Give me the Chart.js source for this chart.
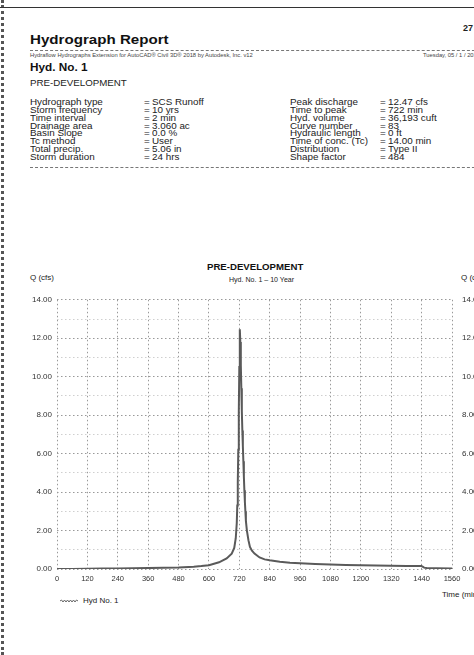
<!DOCTYPE html>
<html>
<head>
<meta charset="utf-8">
<script src="https://cdn.jsdelivr.net/npm/chart.js@4.4.0/dist/chart.umd.min.js"></script>
<style>
html, body { margin: 0; padding: 0; background: #fff; }
body { width: 474px; height: 655px; overflow: hidden; position: relative;
       font-family: "Liberation Sans", Arial, sans-serif; color: #222; }
.t { position: absolute; white-space: nowrap; line-height: 1; }
.sx { transform: scaleX(1.12); transform-origin: 0 0; }
.b { font-weight: bold; }
#leftEdge { position: absolute; left: 1px; top: 0; height: 655px; border-left: 3px dotted #555; }
#topLine { position: absolute; left: 0; top: 7px; width: 474px; border-top: 1.5px solid #333; }
.dash { position: absolute; left: 30px; width: 460px; border-top: 1px dashed #777; }
#chartBox { position: absolute; left: 0; top: 285px; width: 520px; height: 304px; }
</style>
</head>
<body>
<div id="leftEdge"></div>
<div id="topLine"></div>

<div class="t b" style="left:463px;top:24px;font-size:9px;">27</div>
<div class="t b sx" style="left:30px;top:33px;font-size:13.5px;color:#111;">Hydrograph Report</div>
<div class="dash" style="top:50px;"></div>
<div class="t" style="left:30px;top:53px;font-size:5.8px;color:#444;">Hydraflow Hydrographs Extension for AutoCAD® Civil 3D® 2018 by Autodesk, Inc. v12</div>
<div class="t" style="left:423px;top:53px;font-size:5.8px;color:#444;">Tuesday, 05 / 1 / 2018</div>
<div class="t b sx" style="left:30px;top:62px;font-size:10.5px;color:#111;">Hyd. No. 1</div>
<div class="t sx" style="left:30px;top:79px;font-size:8.7px;">PRE-DEVELOPMENT</div>
<div id="params"></div>
<div class="dash" style="top:167px;"></div>

<div class="t b sx" style="left:207px;top:263px;font-size:8.6px;color:#111;">PRE-DEVELOPMENT</div>
<div class="t sx" style="left:229px;top:277px;font-size:6.3px;">Hyd. No. 1 &ndash; 10 Year</div>
<div class="t" style="left:30px;top:274px;font-size:8px;">Q (cfs)</div>
<div class="t" style="left:461px;top:274px;font-size:8px;">Q (cfs)</div>
<div class="t" style="left:442px;top:591px;font-size:8px;">Time (min)</div>

<div id="chartBox"><canvas id="hydroChart"></canvas></div>

<svg style="position:absolute;left:60px;top:598px;" width="20" height="6">
  <polyline points="0,3 1.5,2 3,4 4.5,2 6,4 7.5,2 9,4 10.5,2 12,4 13.5,2 15,4 16.5,2 18,3" fill="none" stroke="#666" stroke-width="1"/>
</svg>
<div class="t" style="left:83px;top:597px;font-size:8px;">Hyd No. 1</div>

<script>
// Parameter table
const leftLabels = ["Hydrograph type", "Storm frequency", "Time interval", "Drainage area",
                    "Basin Slope", "Tc method", "Total precip.", "Storm duration"];
const leftValues = ["SCS Runoff", "10 yrs", "2 min", "3.060 ac", "0.0 %", "User", "5.06 in", "24 hrs"];
const rightLabels = ["Peak discharge", "Time to peak", "Hyd. volume", "Curve number",
                     "Hydraulic length", "Time of conc. (Tc)", "Distribution", "Shape factor"];
const rightValues = ["12.47 cfs", "722 min", "36,193 cuft", "83", "0 ft", "14.00 min", "Type II", "484"];

// Hydrograph (time in min, flow in cfs)
const timeMin = [0, 60, 120, 180, 240, 300, 360, 420, 480, 540, 570, 600, 640, 670, 690,
                 700, 706, 710, 712, 714, 716, 718, 720, 722, 724, 726, 728, 730, 732, 734,
                 736, 738, 740, 742, 744, 746, 750, 756, 762, 770, 780, 800, 820, 840, 880,
                 920, 960, 1020, 1080, 1140, 1200, 1260, 1320, 1380, 1440, 1444, 1450, 1460,
                 1500, 1560];
const flowCfs = [0.00, 0.00, 0.01, 0.02, 0.03, 0.04, 0.05, 0.06, 0.08, 0.12, 0.15, 0.20, 0.35,
                 0.55, 0.80, 1.10, 1.60, 2.40, 3.30, 4.50, 6.20, 8.20, 10.50, 12.47, 11.80,
                 10.60, 9.40, 8.20, 7.20, 6.40, 5.60, 4.80, 4.10, 3.50, 3.00, 2.50, 2.00, 1.50,
                 1.15, 0.95, 0.80, 0.60, 0.50, 0.45, 0.38, 0.33, 0.30, 0.26, 0.23, 0.21, 0.19,
                 0.18, 0.17, 0.16, 0.16, 0.12, 0.07, 0.05, 0.04, 0.03];

const xMax = 1560;
const xStep = 120;
const yMax = 14;
const seriesName = "Hyd No. 1";

const params = document.getElementById("params");
for (let i = 0; i < leftLabels.length; i++) {
  const y = 98 + i * 7.85;
  params.innerHTML += `<div class="t sx" style="left:30px;top:${y}px;font-size:8.8px;">${leftLabels[i]}</div>
    <div class="t sx" style="left:144px;top:${y}px;font-size:8.8px;">=</div>
    <div class="t sx" style="left:152px;top:${y}px;font-size:8.8px;">${leftValues[i]}</div>
    <div class="t sx" style="left:290px;top:${y}px;font-size:8.8px;">${rightLabels[i]}</div>
    <div class="t sx" style="left:380px;top:${y}px;font-size:8.8px;">=</div>
    <div class="t sx" style="left:388px;top:${y}px;font-size:8.8px;">${rightValues[i]}</div>`;
}

const points = timeMin.map((t, i) => ({ x: t, y: flowCfs[i] }));
const tickFont = { family: "Liberation Sans, Arial, sans-serif", size: 8 };

const ctx = document.getElementById("hydroChart").getContext("2d");
const hydroChart = new Chart(ctx, {
  type: "line",
  data: {
    datasets: [{
      label: seriesName,
      data: points,
      borderColor: "#5a5a5a",
      borderWidth: 2,
      pointRadius: 0,
      tension: 0,
      fill: false,
    }],
  },
  options: {
    responsive: true,
    maintainAspectRatio: false,
    animation: false,
    layout: { padding: { top: 10, left: 0, right: 0, bottom: 0 } },
    plugins: { legend: { display: false }, tooltip: { enabled: false } },
    scales: {
      x: {
        type: "linear",
        min: 0,
        max: xMax,
        afterFit: (scale) => { scale.height = 20; },
        ticks: { stepSize: xStep, autoSkip: false, maxRotation: 0, padding: 5,
                 color: "#333", font: { family: tickFont.family, size: 7.5 },
                 callback: (v) => String(v) },
        grid: { color: "#999", drawTicks: false, lineWidth: 1 },
        border: { display: false, dash: [1.5, 2.5] },
      },
      y: {
        position: "left",
        min: 0,
        max: yMax,
        afterFit: (scale) => { scale.width = 57; },
        ticks: {
          stepSize: 1, padding: 5, color: "#333", font: tickFont,
          callback: (v) => (v % 2 === 0 ? v.toFixed(2) : ""),
        },
        grid: {
          drawTicks: false,
          color: (c) => (c.tick && c.tick.value % 2 === 0 ? "#999" : "#cfcfcf"),
        },
        border: { display: false, dash: [1.5, 2.5] },
      },
      y2: {
        position: "right",
        min: 0,
        max: yMax,
        afterFit: (scale) => { scale.width = 68; },
        ticks: {
          stepSize: 1, padding: 10, color: "#333", font: tickFont,
          callback: (v) => (v % 2 === 0 ? v.toFixed(2) : ""),
        },
        grid: { display: false, drawTicks: false },
        border: { display: false },
      },
    },
  },
});
</script>
</body>
</html>
